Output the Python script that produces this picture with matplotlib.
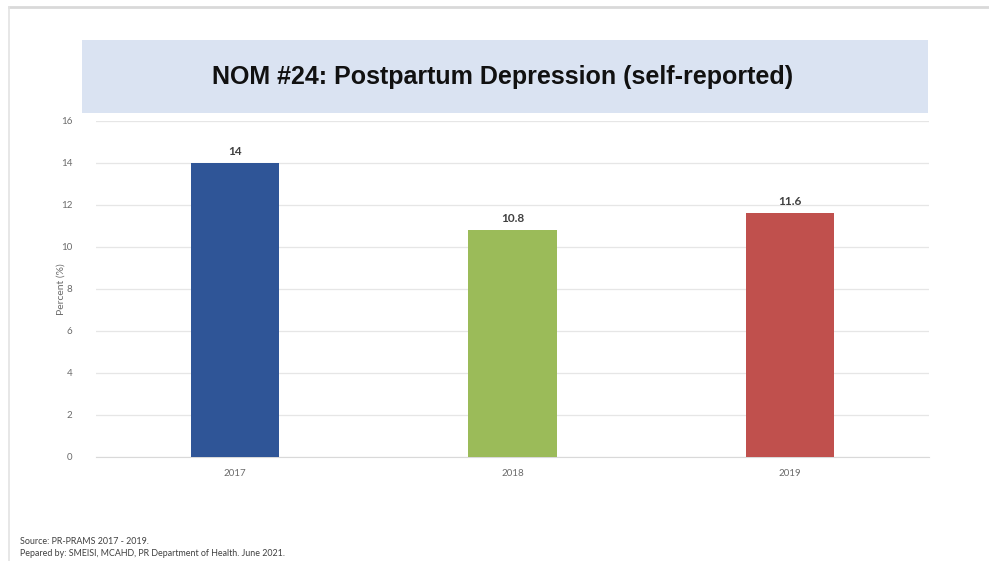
import matplotlib.pyplot as plt
from matplotlib.patches import Rectangle
from matplotlib.lines import Line2D

years = ['2017', '2018', '2019']
percent = [14, 10.8, 11.6]
bar_colors = ['#2F5597', '#9BBB59', '#C0504D']
yticks = [0, 2, 4, 6, 8, 10, 12, 14, 16]

title = 'NOM #24: Postpartum Depression (self-reported)'
source_lines = ['Source: PR-PRAMS 2017 - 2019.',
                'Pepared by: SMEISI, MCAHD, PR Department of Health. June 2021.']

plt.rcParams['font.family'] = ['Lato', 'DejaVu Sans']

fig = plt.figure(figsize=(9.89, 5.61), dpi=100)
fig.patch.set_facecolor('white')

# slide frame (top and left edges)
fig.add_artist(Line2D([9 / 989, 1], [1 - 7 / 561, 1 - 7 / 561], color='#d9d9d9', lw=2))
fig.add_artist(Line2D([9 / 989, 9 / 989], [0, 1 - 7 / 561], color='#e3e3e3', lw=1.2))

# title banner
fig.add_artist(Rectangle((82 / 989, 1 - 113 / 561), 846 / 989, 73 / 561,
                         transform=fig.transFigure, facecolor='#dae3f2', edgecolor='none'))
fig.text(503 / 989, 1 - 77 / 561, title, ha='center', va='center', fontsize=18,
         fontweight='bold', family=['Liberation Sans', 'DejaVu Sans'], color='#111111')

ax = fig.add_axes([96 / 989, 1 - 457 / 561, 833 / 989, 336 / 561])
x = range(len(years))
bars = ax.bar(x, percent, width=0.317, color=bar_colors, zorder=3)
for xi, v in zip(x, percent):
    ax.text(xi, v + 0.3, f'{v:g}', ha='center', va='bottom', fontsize=8.5,
            fontweight='bold', color='#404040')

ax.set_xlim(-0.5, 2.5)
ax.set_ylim(0, 16)
ax.set_yticks(yticks)
ax.set_xticks(list(x))
ax.set_xticklabels(years)
ax.tick_params(axis='both', length=0, labelsize=7, colors='#6b6b6b')
ax.tick_params(axis='y', pad=17)
ax.tick_params(axis='x', pad=9)
ax.grid(axis='y', color='#e6e6e6', lw=0.9, zorder=0)
for s in ['top', 'right', 'left']:
    ax.spines[s].set_visible(False)
ax.spines['bottom'].set_color('#d9d9d9')
ax.set_ylabel('Percent (%)', fontsize=7.5, color='#6b6b6b')
ax.yaxis.set_label_coords(-0.036, 0.5)

for i, line in enumerate(source_lines):
    fig.text(20 / 989, 1 - (541 + 12 * i) / 561, line, fontsize=6.4, color='#404040',
             ha='left', va='center')

fig.savefig('out.png', dpi=100)
